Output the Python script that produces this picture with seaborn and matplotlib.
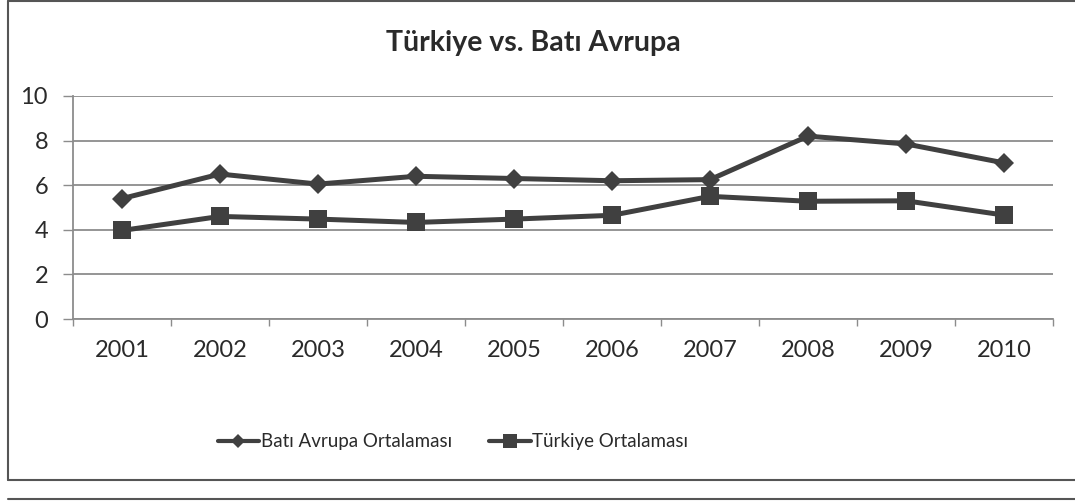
import matplotlib
matplotlib.use("Agg")
import matplotlib.pyplot as plt
from matplotlib.lines import Line2D
import numpy as np
import pandas as pd
import seaborn as sns

# Chart data
years = [2001, 2002, 2003, 2004, 2005, 2006, 2007, 2008, 2009, 2010]
bati_avrupa = [5.4, 6.5, 6.05, 6.4, 6.3, 6.2, 6.25, 8.2, 7.85, 7.0]
turkiye = [3.97, 4.6, 4.48, 4.33, 4.48, 4.65, 5.5, 5.28, 5.3, 4.66]
series_names = ["Batı Avrupa Ortalaması", "Türkiye Ortalaması"]
title_text = "Türkiye vs. Batı Avrupa"
y_ticks = [0, 2, 4, 6, 8, 10]

df = pd.DataFrame({
    "Yıl": years * 2,
    "Değer": bati_avrupa + turkiye,
    "Seri": [series_names[0]] * len(years) + [series_names[1]] * len(years),
})

sns.set_theme(style="white")
plt.rcParams["font.family"] = ["Lato", "DejaVu Sans"]

line_color = "#404040"
grid_color = "#8c8c8c"
text_color = "#2a2a2a"

fig = plt.figure(figsize=(10.75, 5.04), dpi=100)
ax = fig.add_axes([73 / 1075, 1 - 319 / 504, (1053 - 73) / 1075, (319 - 96) / 504])

sns.lineplot(
    data=df, x="Yıl", y="Değer", hue="Seri", style="Seri",
    palette=[line_color, line_color],
    markers={series_names[0]: "D", series_names[1]: "s"},
    dashes=False, linewidth=3.6, markeredgewidth=0,
    legend=False, ax=ax,
)
# marker sizes per series
for ln, ms in zip(ax.get_lines(), [10, 13.5]):
    ln.set_markersize(ms)
    ln.set_solid_joinstyle("round")

ax.set_xlim(years[0] - 0.5, years[-1] + 0.5)
ax.set_ylim(0, 10)
ax.set_xlabel("")
ax.set_ylabel("")

ax.set_yticks(y_ticks)
ax.set_xticks(years)
ax.set_xticks(np.arange(years[0] - 0.5, years[-1] + 1, 1.0), minor=True)
ax.tick_params(axis="x", which="major", length=0, pad=15, labelsize=17, labelcolor=text_color)
ax.tick_params(axis="x", which="minor", length=5, width=1, color=grid_color, direction="out", bottom=True)
ax.tick_params(axis="y", which="major", length=7, width=1, color=grid_color, direction="out",
               pad=11, labelsize=17, labelcolor=text_color, left=True)

ax.yaxis.grid(True, color=grid_color, linewidth=1.3)
ax.xaxis.grid(False)
ax.set_axisbelow(True)
for side in ["top", "right"]:
    ax.spines[side].set_visible(False)
for side in ["left", "bottom"]:
    ax.spines[side].set_color(grid_color)
    ax.spines[side].set_linewidth(1.3)

# Title
fig.text(533 / 1075, 1 - 43 / 504, title_text, ha="center", va="center",
         fontsize=20.5, fontweight="bold", color=text_color)

# Legend
handles = [
    Line2D([], [], color=line_color, linewidth=3, marker="D", markersize=7, markeredgewidth=0),
    Line2D([], [], color=line_color, linewidth=3, marker="s", markersize=10, markeredgewidth=0),
]
fig.legend(handles, series_names, loc="center", bbox_to_anchor=(453 / 1075, 1 - 442 / 504),
           ncol=2, frameon=False, fontsize=13.5, handlelength=2.2, handletextpad=0.1,
           columnspacing=2.0, labelcolor=text_color)

# Outer chart frame
frame_kw = dict(color="#555555", linewidth=1.5, transform=fig.transFigure)
fig.add_artist(Line2D([8 / 1075, 8 / 1075], [1 - 1 / 504, 1 - 480 / 504], **frame_kw))
fig.add_artist(Line2D([8 / 1075, 1.0], [1 - 1 / 504, 1 - 1 / 504], **frame_kw))
fig.add_artist(Line2D([8 / 1075, 1.0], [1 - 480 / 504, 1 - 480 / 504], **frame_kw))
fig.add_artist(Line2D([8 / 1075, 1.0], [1 - 499 / 504, 1 - 499 / 504], **frame_kw))

fig.savefig("out.png", dpi=100, facecolor="white")
